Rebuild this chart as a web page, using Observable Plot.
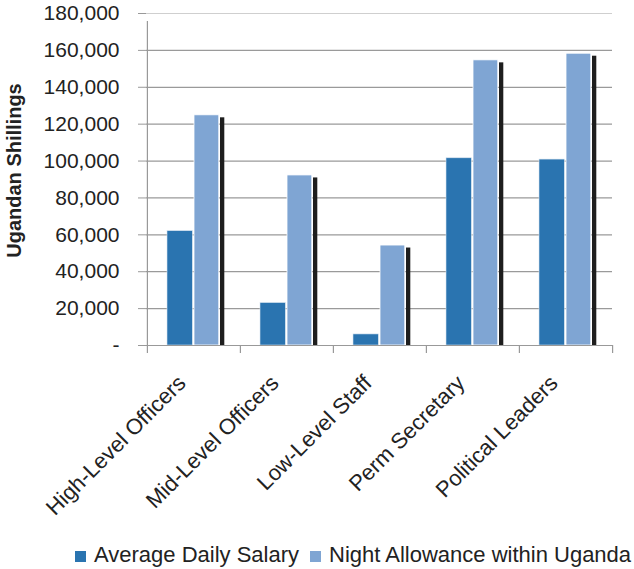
<!DOCTYPE html>
<html>
<head>
<meta charset="utf-8">
<script src="https://cdn.jsdelivr.net/npm/d3@7"></script>
<script src="https://cdn.jsdelivr.net/npm/@observablehq/plot@0.6"></script>
<style>
  body { margin: 0; background: #fff; font-family: "Liberation Sans", Arial, sans-serif; }
  #wrap { position: relative; width: 634px; height: 569px; }
  #legend { position: absolute; left: 0; top: 544px; width: 634px; height: 24px; font-size: 22px; line-height: 22px; color: #222; white-space: nowrap; }
  .sw { display: inline-block; width: 11px; height: 11px; margin-right: 8px; vertical-align: 0; }
  .item { position: absolute; top: 0; }
</style>
</head>
<body>
<div id="wrap"></div>
<script>
const categories = ["High-Level Officers", "Mid-Level Officers", "Low-Level Staff", "Perm Secretary", "Political Leaders"];
const seriesNames = ["Average Daily Salary", "Night Allowance within Uganda"];
const salary = [62000, 23000, 6000, 101500, 100800];
const allowance = [124800, 92200, 54200, 154600, 158200];
const yTicks = [0, 20000, 40000, 60000, 80000, 100000, 120000, 140000, 160000, 180000];
const colors = ["#2a74b0", "#7fa5d3"];

const salaryRows = categories.map((c, i) => ({category: c, value: salary[i]}));
const allowRows = categories.map((c, i) => ({category: c, value: allowance[i]}));

const W = 634, H = 530;
const mL = 146, mR = 22, mT = 13, mB = H - 345;
const band = (W - mL - mR) / categories.length;

const fmt = d => d === 0 ? "-" : d3.format(",")(d);

const chart = Plot.plot({
  width: W, height: H,
  marginLeft: mL, marginRight: mR, marginTop: mT, marginBottom: mB,
  style: {fontFamily: "Liberation Sans, Arial, sans-serif", color: "#222", background: "#fff"},
  x: {domain: categories, padding: 0, label: null},
  y: {domain: [0, 180000], label: null},
  marks: [
    Plot.ruleY(yTicks.filter(d => d > 0 && d < 180000), {stroke: "#9a9a9a", strokeWidth: 1.2}),
    Plot.ruleY([180000], {stroke: "#cfcfcf", strokeWidth: 1.2}),
    Plot.axisY({ticks: yTicks, tickFormat: fmt, tickSize: 8, tickPadding: 19, fontSize: 21, stroke: "#999", label: null}),
    Plot.barY(allowRows, {x: "category", y: "value", fill: "#1e1e1e", insetLeft: 73, insetRight: band - 77.5, insetTop: 2.5}),
    Plot.barY(salaryRows, {x: "category", y: "value", fill: colors[0], stroke: "#d8e4f0", strokeWidth: 0.6, insetLeft: 20, insetRight: band - 45.5}),
    Plot.barY(allowRows, {x: "category", y: "value", fill: colors[1], stroke: "#ffffff", strokeWidth: 0.8, insetLeft: 47, insetRight: band - 72}),
    Plot.ruleY([0], {stroke: "#999", strokeWidth: 1.2}),
    Plot.ruleX(categories.slice(0, 1), {x: d => d, y1: 0, y2: 180000, dx: -band / 2, insetBottom: -8, stroke: "#999", strokeWidth: 1.2}),
    Plot.ruleX(categories, {x: d => d, y1: 0, y2: 0, dx: -band / 2, insetBottom: -8, stroke: "#999", strokeWidth: 1.2}),
    Plot.ruleX(categories.slice(-1), {x: d => d, y1: 0, y2: 0, dx: band / 2, insetBottom: -8, stroke: "#999", strokeWidth: 1.2}),
    Plot.axisX({tickSize: 0, tickPadding: 34, dx: -12, tickRotate: -45, fontSize: 22, label: null}),
    Plot.text(["Ugandan Shillings"], {frameAnchor: "left", textAnchor: "middle", rotate: -90, dx: -132, dy: -9, fontSize: 20, fontWeight: "bold", fill: "#222"})
  ]
});

const wrap = document.getElementById("wrap");
wrap.appendChild(chart);

const legend = document.createElement("div");
legend.id = "legend";
const lefts = [75, 310];
seriesNames.forEach((name, i) => {
  const item = document.createElement("span");
  item.className = "item";
  item.style.left = lefts[i] + "px";
  const sw = document.createElement("span");
  sw.className = "sw";
  sw.style.background = colors[i];
  item.appendChild(sw);
  item.appendChild(document.createTextNode(name));
  legend.appendChild(item);
});
wrap.appendChild(legend);
</script>
</body>
</html>
